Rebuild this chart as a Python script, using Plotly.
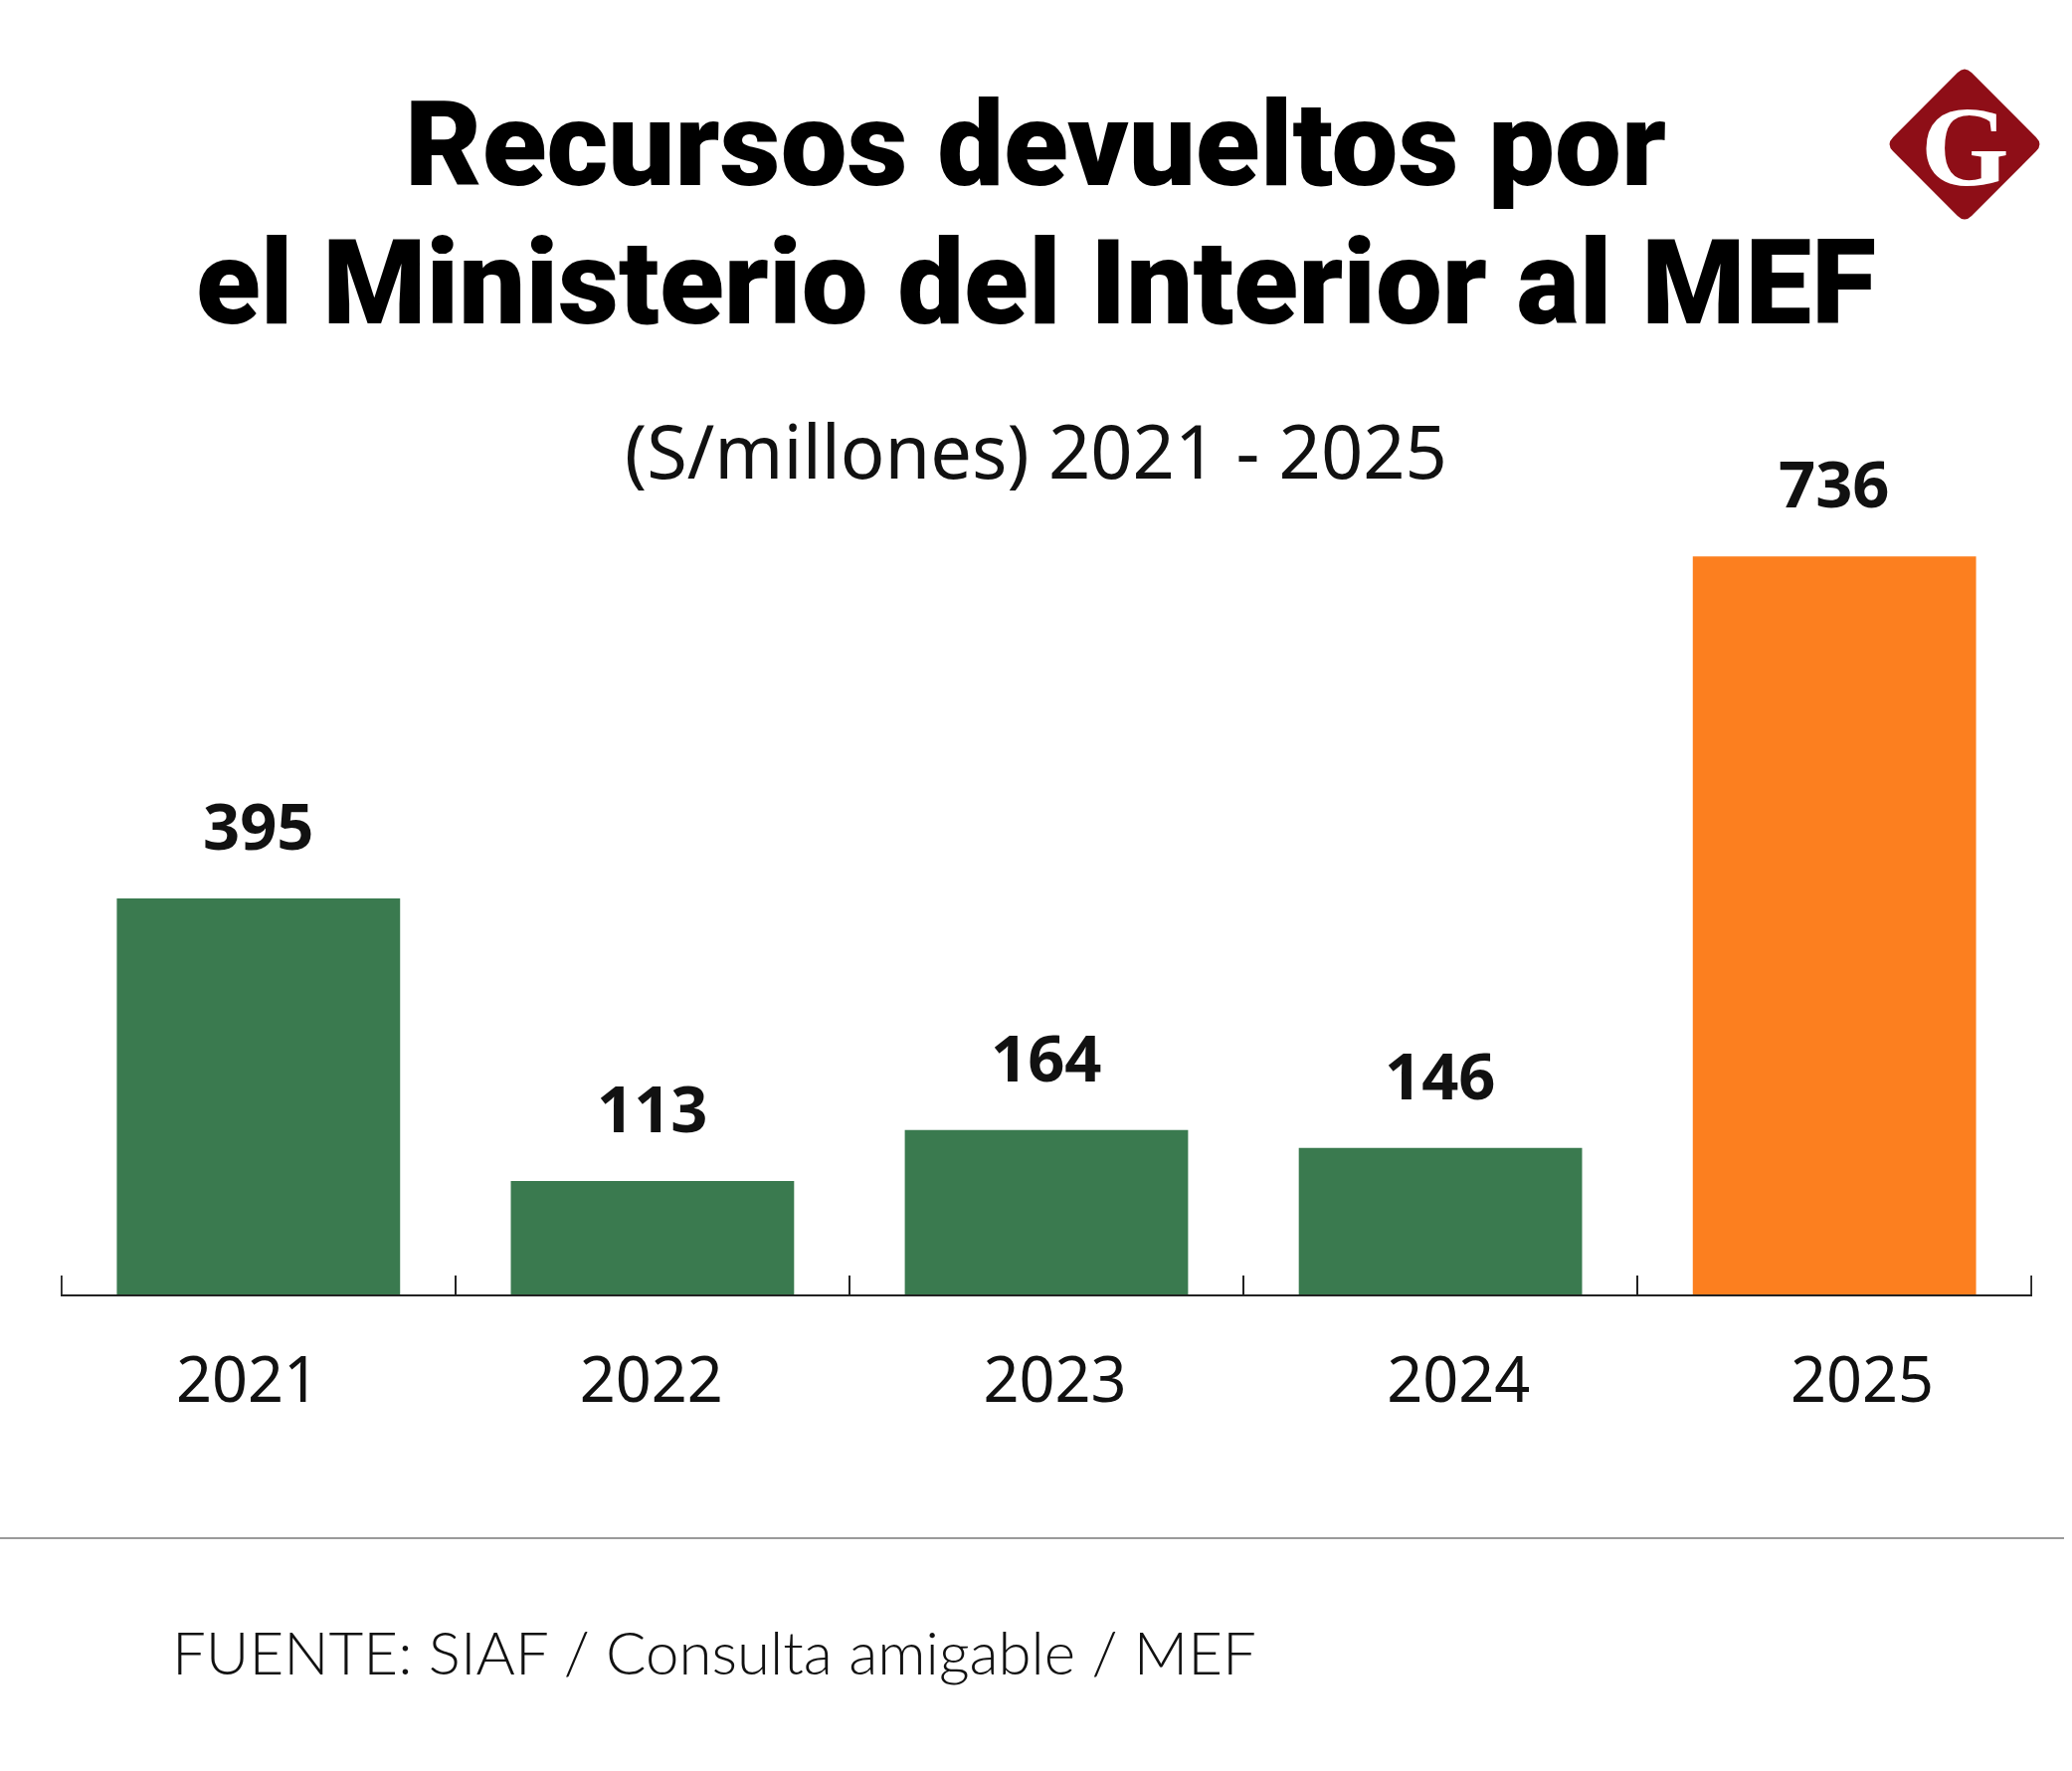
import plotly.graph_objects as go

# ---- data ----
years = ["2021", "2022", "2023", "2024", "2025"]
values = [395, 113, 164, 146, 736]
bar_colors = ["#3A7A4F", "#3A7A4F", "#3A7A4F", "#3A7A4F", "#FC7F1F"]
title_lines = ["Recursos devueltos por", "el Ministerio del Interior al MEF"]
subtitle = "(S/millones) 2021 - 2025"
source = "FUENTE: SIAF / Consulta amigable / MEF"

W, H = 2083, 1780
L, R, T, B = 61, 40, 400, 479
PW, PH = W - L - R, H - T - B


def px(x):
    return (x - L) / PW


def py(y):
    return (H - B - y) / PH


fig = go.Figure()
fig.add_trace(go.Bar(
    x=years, y=values, marker=dict(color=bar_colors, line=dict(width=0)),
    hoverinfo="skip", showlegend=False,
))
# invisible trace for the shifted year labels axis
fig.add_trace(go.Scatter(
    x=years, y=[0] * len(years), xaxis="x2", mode="markers",
    marker=dict(opacity=0), hoverinfo="skip", showlegend=False,
))

annotations = []
for i, v in enumerate(values):
    annotations.append(dict(
        x=i, y=v, xref="x", yref="y", text=f"<b>{v}</b>", showarrow=False,
        yanchor="bottom", yshift=28,
        font=dict(family="Noto Sans", size=65, color="#111"),
    ))

title_font = dict(family="Roboto", size=119, color="#000", weight=900)
annotations.append(dict(x=px(1041), y=py(145), xref="paper", yref="paper",
                        text=title_lines[0], showarrow=False, xanchor="center", yanchor="middle",
                        font=title_font))
annotations.append(dict(x=px(1041), y=py(284), xref="paper", yref="paper",
                        text=title_lines[1], showarrow=False, xanchor="center", yanchor="middle",
                        font=title_font))
annotations.append(dict(x=px(1041), y=py(452), xref="paper", yref="paper",
                        text=subtitle, showarrow=False, xanchor="center", yanchor="middle",
                        font=dict(family="Noto Sans", size=74, color="#111")))
annotations.append(dict(x=px(171), y=py(1660), xref="paper", yref="paper",
                        text=source, showarrow=False, xanchor="left", yanchor="middle",
                        font=dict(family="Lato", size=60, color="#111", weight=300)))
# logo letter
annotations.append(dict(x=px(1975), y=py(147), xref="paper", yref="paper",
                        text="<b>G</b>", showarrow=False, xanchor="center", yanchor="middle",
                        font=dict(family="Liberation Serif", size=114, color="#FFFFFF")))

# logo diamond with rounded corners
cx, cy, hw, rc = 1975, 145, 79, 10
pts = [(cx, cy - hw), (cx + hw, cy), (cx, cy + hw), (cx - hw, cy)]


def lerp(a, b, t):
    return (a[0] + (b[0] - a[0]) * t, a[1] + (b[1] - a[1]) * t)


path = ""
for i in range(4):
    p0, p1, p2 = pts[i - 1], pts[i], pts[(i + 1) % 4]
    t = rc / (hw * 2 ** 0.5)
    a = lerp(p1, p0, t)
    b = lerp(p1, p2, t)
    cmd = "M" if i == 0 else "L"
    path += f"{cmd} {px(a[0])},{py(a[1])} Q {px(p1[0])},{py(p1[1])} {px(b[0])},{py(b[1])} "
path += "Z"

shapes = [
    dict(type="path", xref="paper", yref="paper", path=path,
         fillcolor="#8E0E17", line=dict(width=0), layer="below"),
    dict(type="line", xref="paper", yref="paper", x0=px(0), x1=px(2075),
         y0=py(1546), y1=py(1546), line=dict(color="#9A9A9A", width=2)),
]
# outer boundary ticks at both ends of the category axis
for xb in (-0.5, len(years) - 0.5):
    shapes.append(dict(type="line", xref="x", yref="y", x0=xb, x1=xb,
                       ysizemode="pixel", yanchor=0, y0=0, y1=19,
                       line=dict(color="#222", width=2)))

fig.update_layout(
    width=W, height=H,
    margin=dict(l=L, r=R, t=T, b=B),
    paper_bgcolor="white", plot_bgcolor="white",
    bargap=0.281,
    xaxis=dict(type="category", categoryorder="array", categoryarray=years,
               range=[-0.502, 4.502], showline=True, linecolor="#222", linewidth=2,
               ticks="inside", tickson="boundaries", ticklen=19, tickwidth=2,
               tickcolor="#222", showticklabels=False, showgrid=False, zeroline=False,
               fixedrange=True),
    xaxis2=dict(type="category", categoryorder="array", categoryarray=years,
                overlaying="x", anchor="y", side="bottom",
                range=[-0.4633, 4.4214], showline=False, ticks="",
                showgrid=False, zeroline=False, ticklabelstandoff=44,
                tickfont=dict(family="Noto Sans", size=63, color="#111")),
    yaxis=dict(range=[0, 894], visible=False, fixedrange=True),
    annotations=annotations,
    shapes=shapes,
)

fig.write_html("out.html")
